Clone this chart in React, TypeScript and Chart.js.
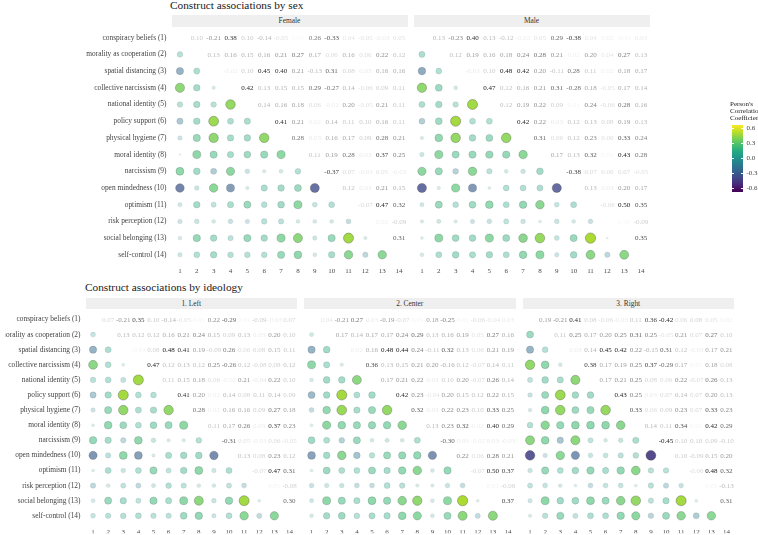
import React, { useEffect, useRef } from "react";
import { Chart, registerables } from "chart.js";

Chart.register(...registerables);

// ---------- DATA ----------
const constructs = [
  "conspiracy beliefs (1)",
  "morality as cooperation (2)",
  "spatial distancing (3)",
  "collective narcissism (4)",
  "national identity (5)",
  "policy support (6)",
  "physical hygiene (7)",
  "moral identity (8)",
  "narcissism (9)",
  "open mindedness (10)",
  "optimism (11)",
  "risk perception (12)",
  "social belonging (13)",
  "self-control (14)",
];
const tickNumbers = [1, 2, 3, 4, 5, 6, 7, 8, 9, 10, 11, 12, 13, 14];
const tickLabels = ["1", "2", "3", "4", "5", "6", "7", "8", "9", "10", "11", "12", "13", "14"];
const legendTicks = [0.6, 0.3, 0.0, -0.3, -0.6];
const legendTickLabels = ["0.6", "0.3", "0.0", "-0.3", "-0.6"];

// upper triangle: row i holds r(i, j) for j = i+1 .. 14
const female = [
  [0.10, -0.21, 0.38, 0.10, -0.14, -0.05, 0.00, 0.26, -0.33, 0.04, -0.05, -0.03, 0.05],
  [0.13, 0.16, 0.15, 0.16, 0.21, 0.27, 0.17, 0.06, 0.16, 0.06, 0.22, 0.12],
  [-0.02, 0.10, 0.45, 0.40, 0.21, -0.13, 0.31, 0.08, 0.03, 0.16, 0.16],
  [0.42, 0.13, 0.15, 0.15, 0.29, -0.27, 0.14, -0.06, 0.09, 0.11],
  [0.14, 0.16, 0.18, 0.06, -0.02, 0.20, -0.05, 0.21, 0.11],
  [0.41, 0.21, 0.02, 0.14, 0.11, 0.10, 0.16, 0.11],
  [0.28, 0.03, 0.16, 0.17, 0.09, 0.28, 0.21],
  [0.11, 0.19, 0.28, 0.03, 0.37, 0.25],
  [-0.37, 0.07, -0.03, 0.05, -0.03],
  [0.12, 0.03, 0.21, 0.15],
  [-0.07, 0.47, 0.32],
  [0.02, -0.09],
  [0.31],
];
const male = [
  [0.13, -0.23, 0.40, 0.13, -0.12, -0.02, 0.05, 0.29, -0.38, 0.04, 0.02, -0.01, 0.03],
  [0.12, 0.19, 0.16, 0.18, 0.24, 0.28, 0.21, 0.02, 0.20, 0.04, 0.27, 0.13],
  [-0.03, 0.10, 0.48, 0.42, 0.20, -0.11, 0.28, 0.11, 0.02, 0.18, 0.17],
  [0.47, 0.12, 0.16, 0.21, 0.31, -0.28, 0.18, -0.05, 0.17, 0.14],
  [0.12, 0.19, 0.22, 0.09, 0.01, 0.24, -0.06, 0.28, 0.16],
  [0.42, 0.22, 0.03, 0.12, 0.13, 0.08, 0.19, 0.13],
  [0.31, 0.06, 0.12, 0.23, 0.06, 0.33, 0.24],
  [0.17, 0.13, 0.32, 0.01, 0.43, 0.28],
  [-0.38, 0.07, 0.06, 0.07, -0.05],
  [0.13, 0.03, 0.20, 0.17],
  [-0.06, 0.50, 0.35],
  [0.00, -0.09],
  [0.35],
];
const left = [
  [0.07, -0.21, 0.35, 0.10, -0.14, -0.05, 0.01, 0.22, -0.29, 0.01, -0.09, -0.03, 0.07],
  [0.13, 0.12, 0.12, 0.16, 0.21, 0.24, 0.15, 0.09, 0.13, 0.03, 0.20, 0.10],
  [-0.01, 0.08, 0.48, 0.41, 0.19, -0.09, 0.26, 0.06, 0.08, 0.15, 0.11],
  [0.47, 0.12, 0.13, 0.12, 0.25, -0.26, 0.12, -0.08, 0.08, 0.12],
  [0.11, 0.15, 0.18, 0.06, -0.02, 0.21, -0.04, 0.22, 0.10],
  [0.41, 0.20, 0.02, 0.14, 0.08, 0.11, 0.14, 0.09],
  [0.28, 0.02, 0.16, 0.16, 0.09, 0.27, 0.18],
  [0.11, 0.17, 0.26, 0.03, 0.37, 0.23],
  [-0.31, 0.05, -0.03, 0.06, -0.05],
  [0.13, 0.08, 0.23, 0.12],
  [-0.07, 0.47, 0.31],
  [0.01, -0.08],
  [0.30],
];
const center = [
  [0.04, -0.21, 0.27, 0.03, -0.19, -0.07, 0.01, 0.18, -0.25, 0.01, -0.06, -0.04, 0.03],
  [0.17, 0.14, 0.17, 0.17, 0.24, 0.29, 0.13, 0.16, 0.19, 0.05, 0.27, 0.16],
  [0.02, 0.16, 0.48, 0.44, 0.24, -0.11, 0.32, 0.13, 0.06, 0.21, 0.19],
  [0.36, 0.13, 0.15, 0.21, 0.20, -0.16, 0.12, -0.07, 0.14, 0.11],
  [0.17, 0.21, 0.22, 0.03, 0.10, 0.20, -0.07, 0.26, 0.14],
  [0.42, 0.23, -0.04, 0.20, 0.15, 0.12, 0.22, 0.15],
  [0.32, 0.03, 0.22, 0.23, 0.10, 0.33, 0.25],
  [0.13, 0.23, 0.32, 0.02, 0.40, 0.29],
  [-0.30, 0.03, -0.02, 0.03, -0.03],
  [0.22, 0.06, 0.28, 0.21],
  [-0.07, 0.50, 0.37],
  [0.01, -0.08],
  [0.37],
];
const right = [
  [0.19, -0.21, 0.41, 0.08, -0.06, -0.03, 0.11, 0.36, -0.42, 0.06, 0.08, 0.05, 0.02],
  [0.11, 0.25, 0.17, 0.20, 0.25, 0.31, 0.25, -0.05, 0.21, 0.07, 0.27, 0.10],
  [0.03, 0.14, 0.45, 0.42, 0.22, -0.15, 0.31, 0.12, -0.03, 0.17, 0.21],
  [0.38, 0.17, 0.19, 0.25, 0.37, -0.29, 0.17, 0.01, 0.18, 0.08],
  [0.17, 0.21, 0.25, 0.08, 0.06, 0.22, -0.07, 0.26, 0.13],
  [0.43, 0.25, 0.03, 0.07, 0.14, 0.07, 0.20, 0.13],
  [0.33, 0.06, 0.09, 0.23, 0.07, 0.33, 0.23],
  [0.14, 0.11, 0.34, 0.01, 0.42, 0.29],
  [-0.45, 0.10, 0.10, 0.09, -0.10],
  [0.10, -0.09, 0.15, 0.20],
  [-0.06, 0.48, 0.32],
  [0.01, -0.13],
  [0.31],
];

// ---------- STYLE / LAYOUT ----------
const FONT = '"Liberation Serif", "Times New Roman", serif';
const W = 758;
const H = 535;
const LIM = 0.67;
const VIR = ["#440154", "#482475", "#414487", "#355f8d", "#2a788e", "#21918c", "#22a884", "#44bf70", "#7ad151", "#bddf26", "#fde725"];

function hexToRgb(h: string) {
  return [parseInt(h.slice(1, 3), 16), parseInt(h.slice(3, 5), 16), parseInt(h.slice(5, 7), 16)];
}
function viridis(t: number) {
  const tt = Math.max(0, Math.min(1, t));
  const p = tt * 10;
  const i = Math.min(9, Math.floor(p));
  const f = p - i;
  const a = hexToRgb(VIR[i]);
  const b = hexToRgb(VIR[i + 1]);
  return [0, 1, 2].map((k) => Math.round(a[k] + (b[k] - a[k]) * f));
}
function colorOf(v: number) {
  return viridis((v + LIM) / (2 * LIM));
}
function fillAlpha(v: number) {
  return Math.min(1, 0.15 + 1.7 * Math.abs(v));
}
function textAlpha(v: number) {
  return Math.min(1, 0.04 + 2.2 * Math.abs(v));
}
function radiusOf(v: number) {
  return 0.9 + 6 * Math.sqrt(Math.abs(v));
}
function corr(rows: number[][], a: number, b: number) {
  const lo = Math.min(a, b);
  const hi = Math.max(a, b);
  return rows[lo - 1][hi - lo - 1];
}

type PanelSpec = {
  rows: number[][];
  strip: string;
  left: number;
  top: number;
  width: number;
  height: number;
  stripTop: number;
  stripH: number;
  showY: boolean;
  yW: number;
  xPad: number;
};

const TOP_Y = 29.35;
const TOP_H = 233.8;
const BOT_Y = 311.95;
const BOT_H = 211.4;

const panels: PanelSpec[] = [
  { rows: female, strip: "Female", left: 171.5, top: TOP_Y, width: 236, height: TOP_H, stripTop: 15, stripH: 11.7, showY: true, yW: 100, xPad: 4 },
  { rows: male, strip: "Male", left: 413.5, top: TOP_Y, width: 236, height: TOP_H, stripTop: 15, stripH: 11.7, showY: false, yW: 0, xPad: 4 },
  { rows: left, strip: "1. Left", left: 85.5, top: BOT_Y, width: 211.5, height: BOT_H, stripTop: 298.3, stripH: 10.6, showY: true, yW: 80, xPad: 5 },
  { rows: center, strip: "2. Center", left: 304, top: BOT_Y, width: 211.5, height: BOT_H, stripTop: 298.3, stripH: 10.6, showY: false, yW: 0, xPad: 5 },
  { rows: right, strip: "3. Right", left: 522.5, top: BOT_Y, width: 211.5, height: BOT_H, stripTop: 298.3, stripH: 10.6, showY: false, yW: 0, xPad: 5 },
];

function Panel({ spec }: { spec: PanelSpec }) {
  const ref = useRef<HTMLCanvasElement | null>(null);
  useEffect(() => {
    const canvas = ref.current;
    if (!canvas) return;
    const rows = spec.rows;
    const points: { x: number; y: number; v: number }[] = [];
    for (let i = 2; i <= 14; i++) {
      for (let j = 1; j < i; j++) {
        points.push({ x: tickNumbers[j - 1], y: tickNumbers[i - 1], v: corr(rows, j, i) });
      }
    }
    const textPlugin = {
      id: "cellText",
      afterDatasetsDraw(chart: any) {
        const ctx = chart.ctx;
        const xs = chart.scales.x;
        const ys = chart.scales.y;
        ctx.save();
        ctx.font = `7px ${FONT}`;
        ctx.textAlign = "center";
        ctx.textBaseline = "middle";
        for (let i = 1; i <= 13; i++) {
          for (let j = i + 1; j <= 14; j++) {
            const v = corr(rows, i, j);
            ctx.fillStyle = `rgba(25,25,25,${textAlpha(v)})`;
            ctx.fillText(v.toFixed(2), xs.getPixelForValue(j), ys.getPixelForValue(i) + 0.5);
          }
        }
        ctx.restore();
      },
    };
    const XH = 10;
    const areaBottom = spec.top + spec.height;
    const chart = new Chart(canvas, {
      type: "bubble",
      data: {
        datasets: [
          {
            data: points as any,
            backgroundColor: (c: any) => {
              const v = c.raw ? c.raw.v : 0;
              const [r, g, b] = colorOf(v);
              return `rgba(${r},${g},${b},${fillAlpha(v)})`;
            },
            borderColor: (c: any) => {
              const v = c.raw ? c.raw.v : 0;
              return `rgba(60,60,60,${0.5 * fillAlpha(v)})`;
            },
            borderWidth: 0.7,
            radius: (c: any) => radiusOf(c.raw ? c.raw.v : 0),
            hoverRadius: 0,
          } as any,
        ],
      },
      options: {
        responsive: false,
        animation: false,
        events: [],
        layout: {
          padding: {
            left: spec.left - (spec.showY ? spec.yW : 0),
            top: spec.top,
            right: W - (spec.left + spec.width),
            bottom: H - areaBottom - XH,
          },
        },
        plugins: { legend: { display: false }, tooltip: { enabled: false }, title: { display: false } },
        scales: {
          x: {
            type: "linear",
            min: 0.5,
            max: 14.5,
            afterBuildTicks: (s: any) => {
              s.ticks = tickNumbers.map((v) => ({ value: v }));
            },
            afterFit: (s: any) => {
              s.height = XH;
            },
            grid: { display: false, drawTicks: false },
            border: { display: false },
            ticks: {
              autoSkip: false,
              maxRotation: 0,
              minRotation: 0,
              padding: spec.xPad,
              color: "#4a4a4a",
              font: { family: FONT, size: 7 },
              callback: (v: any) => tickLabels[Number(v) - 1],
            },
          },
          y: {
            type: "linear",
            display: spec.showY,
            min: 0.5,
            max: 14.5,
            reverse: true,
            afterBuildTicks: (s: any) => {
              s.ticks = tickNumbers.map((v) => ({ value: v }));
            },
            afterFit: (s: any) => {
              if (spec.showY) s.width = spec.yW;
            },
            grid: { display: false, drawTicks: false },
            border: { display: false },
            ticks: {
              autoSkip: false,
              padding: 5,
              color: "#444",
              font: { family: FONT, size: 7.4 },
              callback: (v: any) => constructs[Number(v) - 1],
            },
          },
        },
      } as any,
      plugins: [textPlugin],
    });
    return () => chart.destroy();
  }, [spec]);
  return (
    <canvas
      ref={ref}
      width={W}
      height={H}
      style={{ position: "absolute", left: 0, top: 0, width: W, height: H }}
    />
  );
}

function Strip({ spec }: { spec: PanelSpec }) {
  return (
    <div
      style={{
        position: "absolute",
        left: spec.left,
        top: spec.stripTop,
        width: spec.width,
        height: spec.stripH,
        background: "#efefef",
        display: "flex",
        alignItems: "center",
        justifyContent: "center",
        fontFamily: FONT,
        fontSize: 7.4,
        color: "#333",
        lineHeight: 1,
      }}
    >
      {spec.strip}
    </div>
  );
}

function Legend() {
  const barTop = 158.3 - LIM * 50;
  const barH = LIM * 100;
  const stops: string[] = [];
  for (let k = 0; k <= 20; k++) {
    const v = LIM - (2 * LIM * k) / 20;
    const [r, g, b] = colorOf(v);
    stops.push(`rgb(${r},${g},${b}) ${(k / 20) * 100}%`);
  }
  return (
    <>
      <div
        style={{
          position: "absolute",
          left: 730,
          top: 100.6,
          fontFamily: FONT,
          fontSize: 7,
          lineHeight: "7.2px",
          color: "#222",
          whiteSpace: "nowrap",
        }}
      >
        Person's
        <br />
        Correlation
        <br />
        Coefficient
      </div>
      <div
        style={{
          position: "absolute",
          left: 731.5,
          top: barTop,
          width: 11.5,
          height: barH,
          background: `linear-gradient(to bottom, ${stops.join(", ")})`,
        }}
      />
      {legendTicks.map((v, i) => {
        const y = 158.3 - v * 50;
        return (
          <React.Fragment key={i}>
            <div style={{ position: "absolute", left: 731.5, top: y - 0.4, width: 2.3, height: 0.8, background: "#fff" }} />
            <div style={{ position: "absolute", left: 740.7, top: y - 0.4, width: 2.3, height: 0.8, background: "#fff" }} />
            <div
              style={{
                position: "absolute",
                left: 746.5,
                top: y - 4,
                fontFamily: FONT,
                fontSize: 7,
                lineHeight: "8px",
                color: "#444",
                whiteSpace: "nowrap",
              }}
            >
              {legendTickLabels[i]}
            </div>
          </React.Fragment>
        );
      })}
    </>
  );
}

export default function App() {
  return (
    <div
      style={{
        position: "absolute",
        left: 0,
        top: 0,
        width: W,
        height: H,
        overflow: "hidden",
        background: "#fff",
      }}
    >
      <div
        style={{
          position: "absolute",
          left: 170,
          top: 0,
          fontFamily: FONT,
          fontSize: 11.3,
          lineHeight: "11px",
          color: "#1a1a1a",
          whiteSpace: "nowrap",
        }}
      >
        Construct associations by sex
      </div>
      <div
        style={{
          position: "absolute",
          left: 85,
          top: 281.5,
          fontFamily: FONT,
          fontSize: 11.3,
          lineHeight: "11px",
          color: "#1a1a1a",
          whiteSpace: "nowrap",
        }}
      >
        Construct associations by ideology
      </div>
      {panels.map((p, i) => (
        <Strip key={"s" + i} spec={p} />
      ))}
      {panels.map((p, i) => (
        <Panel key={"p" + i} spec={p} />
      ))}
      <Legend />
    </div>
  );
}
